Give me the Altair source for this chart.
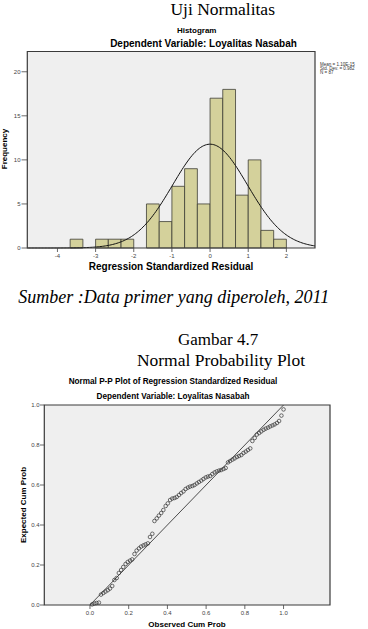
import altair as alt
import numpy as np
import pandas as pd

SANS = "Liberation Sans"
SERIF = "Liberation Serif"

# ---------------- Histogram (regression standardized residual) ----------------
bin_start = [-3.667, -3.000, -2.667, -2.333, -1.667, -1.333, -1.000, -0.667,
             -0.333, 0.000, 0.333, 0.667, 1.000, 1.333, 1.667]
bin_end = [-3.333, -2.667, -2.333, -2.000, -1.333, -1.000, -0.667, -0.333,
           0.000, 0.333, 0.667, 1.000, 1.333, 1.667, 2.000]
frequency = [1, 1, 1, 1, 5, 3, 7, 9, 5, 17, 18, 6, 10, 2, 1]
hist_x_ticks = [-4, -3, -2, -1, 0, 1, 2]
hist_x_labels = ["-4", "-3", "-2", "-1", "0", "1", "2"]
hist_y_ticks = [0, 5, 10, 15, 20]
hist_y_labels = ["0", "5", "10", "15", "20"]
hist_x_domain = [-4.79, 2.75]
hist_y_domain = [0, 22.3]
resid_mean = 0.0
resid_sd = 0.982
resid_n = 87
bin_width = 1 / 3
stats_lines = ["Mean = 1.10E-15", "Std. Dev. = 0.982", "N = 87"]

# ---------------- Normal P-P plot ----------------
obs_cum_prob = [0.011, 0.023, 0.034, 0.046, 0.057, 0.069, 0.080, 0.092, 0.103, 0.115,
                0.126, 0.138, 0.149, 0.161, 0.172, 0.184, 0.195, 0.207, 0.218, 0.230,
                0.241, 0.253, 0.264, 0.276, 0.287, 0.299, 0.310, 0.322, 0.333, 0.345,
                0.356, 0.368, 0.379, 0.391, 0.402, 0.414, 0.425, 0.437, 0.448, 0.460,
                0.471, 0.483, 0.494, 0.506, 0.517, 0.529, 0.540, 0.552, 0.563, 0.575,
                0.586, 0.598, 0.609, 0.621, 0.632, 0.644, 0.655, 0.667, 0.678, 0.690,
                0.701, 0.713, 0.724, 0.736, 0.747, 0.759, 0.770, 0.782, 0.793, 0.805,
                0.816, 0.828, 0.839, 0.851, 0.862, 0.874, 0.885, 0.897, 0.908, 0.920,
                0.931, 0.943, 0.954, 0.966, 0.977, 0.989, 1.000]
exp_cum_prob = [0.003, 0.007, 0.010, 0.012, 0.052, 0.060, 0.067, 0.074, 0.082, 0.095,
                0.125, 0.135, 0.160, 0.175, 0.190, 0.205, 0.215, 0.222, 0.228, 0.255,
                0.272, 0.283, 0.292, 0.298, 0.303, 0.308, 0.340, 0.356, 0.420, 0.433,
                0.447, 0.460, 0.475, 0.495, 0.508, 0.525, 0.532, 0.535, 0.540, 0.550,
                0.560, 0.568, 0.580, 0.587, 0.592, 0.595, 0.600, 0.608, 0.615, 0.622,
                0.630, 0.638, 0.642, 0.645, 0.655, 0.663, 0.668, 0.672, 0.675, 0.680,
                0.685, 0.713, 0.720, 0.727, 0.733, 0.740, 0.745, 0.750, 0.760, 0.767,
                0.775, 0.783, 0.820, 0.835, 0.852, 0.860, 0.868, 0.876, 0.882, 0.887,
                0.893, 0.898, 0.903, 0.910, 0.920, 0.947, 0.978]
pp_ticks = [0.0, 0.2, 0.4, 0.6, 0.8, 1.0]
pp_labels = ["0.0", "0.2", "0.4", "0.6", "0.8", "1.0"]
pp_x_domain = [-0.236, 1.24]
pp_y_domain = [0.0, 1.0]
ref_line = [0.0, 1.0]

# ---------------- Texts ----------------
TXT_MAIN = "Uji Normalitas"
TXT_HIST = "Histogram"
TXT_DEP = "Dependent Variable: Loyalitas Nasabah"
TXT_FREQ = "Frequency"
TXT_RESID = "Regression Standardized Residual"
TXT_SRC = "Sumber :Data primer yang diperoleh, 2011"
TXT_FIG = "Gambar 4.7"
TXT_FIG2 = "Normal Probability Plot"
TXT_PP = "Normal P-P Plot of Regression Standardized Residual"
TXT_EXP = "Expected Cum Prob"
TXT_OBS = "Observed Cum Prob"

W, H = 368, 629
TICK_C = "#444444"
LAB_C = "#444444"

# ================= Histogram layer =================
hx = alt.Scale(domain=hist_x_domain, range=[27.3, 315], nice=False, zero=False)
hy = alt.Scale(domain=hist_y_domain, range=[248, 51.5], nice=False, zero=False)

hist_frame = pd.DataFrame({"x0": [hist_x_domain[0]], "x1": [hist_x_domain[1]],
                           "y0": [hist_y_domain[0]], "y1": [hist_y_domain[1]]})
hist_df = pd.DataFrame({"lo": bin_start, "hi": bin_end, "freq": frequency})
cx = np.linspace(hist_x_domain[0], hist_x_domain[1], 200)
cy = resid_n * bin_width / (resid_sd * np.sqrt(2 * np.pi)) * np.exp(-0.5 * ((cx - resid_mean) / resid_sd) ** 2)
curve_df = pd.DataFrame({"cx": cx, "cy": cy})
hxt_df = pd.DataFrame({"t": hist_x_ticks, "lab": hist_x_labels})
hyt_df = pd.DataFrame({"t": hist_y_ticks, "lab": hist_y_labels})

h_bg = alt.Chart(hist_frame).mark_rect(fill="#efefef", strokeWidth=0).encode(
    x=alt.X("x0:Q", scale=hx, axis=None), x2="x1:Q",
    y=alt.Y("y0:Q", scale=hy, axis=None), y2="y1:Q")
h_bars = alt.Chart(hist_df).mark_rect(fill="#d4d19b", stroke="#3d3d35", strokeWidth=0.8).encode(
    x=alt.X("lo:Q", scale=hx, axis=None), x2="hi:Q",
    y=alt.Y("freq:Q", scale=hy, axis=None), y2=alt.datum(0))
h_curve = alt.Chart(curve_df).mark_line(color="#111111", strokeWidth=1).encode(
    x=alt.X("cx:Q", scale=hx, axis=None), y=alt.Y("cy:Q", scale=hy, axis=None))
h_border = alt.Chart(hist_frame).mark_rect(fillOpacity=0, stroke="#3a3a3a", strokeWidth=1.2).encode(
    x=alt.X("x0:Q", scale=hx, axis=None), x2="x1:Q",
    y=alt.Y("y0:Q", scale=hy, axis=None), y2="y1:Q")
h_xticks = alt.Chart(hxt_df).mark_rule(color=TICK_C, strokeWidth=0.8).encode(
    x=alt.X("t:Q", scale=hx, axis=None), y=alt.value(248), y2=alt.value(252))
h_xlabs = alt.Chart(hxt_df).mark_text(fontSize=6, font=SANS, color=LAB_C, baseline="top").encode(
    x=alt.X("t:Q", scale=hx, axis=None), y=alt.value(252.5), text="lab:N")
h_yticks = alt.Chart(hyt_df).mark_rule(color=TICK_C, strokeWidth=0.8).encode(
    y=alt.Y("t:Q", scale=hy, axis=None), x=alt.value(21.5), x2=alt.value(27.3))
h_ylabs = alt.Chart(hyt_df).mark_text(fontSize=6, font=SANS, color=LAB_C, align="right",
                                      baseline="middle").encode(
    y=alt.Y("t:Q", scale=hy, axis=None), x=alt.value(20.5), text="lab:N")
hist = alt.layer(h_bg, h_bars, h_curve, h_border, h_xticks, h_xlabs, h_yticks, h_ylabs)

# ================= P-P layer =================
px = alt.Scale(domain=pp_x_domain, range=[44.3, 330], nice=False, zero=False)
py = alt.Scale(domain=pp_y_domain, range=[605, 405], nice=False, zero=False)

pp_frame = pd.DataFrame({"x0": [pp_x_domain[0]], "x1": [pp_x_domain[1]],
                         "y0": [pp_y_domain[0]], "y1": [pp_y_domain[1]]})
pp_df = pd.DataFrame({"obs": obs_cum_prob, "exp": exp_cum_prob})
line_df = pd.DataFrame({"lx": ref_line, "ly": ref_line})
ppt_df = pd.DataFrame({"t": pp_ticks, "lab": pp_labels})

p_bg = alt.Chart(pp_frame).mark_rect(fill="#efefef", strokeWidth=0).encode(
    x=alt.X("x0:Q", scale=px, axis=None), x2="x1:Q",
    y=alt.Y("y0:Q", scale=py, axis=None), y2="y1:Q")
p_line = alt.Chart(line_df).mark_line(color="#222222", strokeWidth=0.8).encode(
    x=alt.X("lx:Q", scale=px, axis=None), y=alt.Y("ly:Q", scale=py, axis=None))
p_pts = alt.Chart(pp_df).mark_point(shape="circle", filled=False, size=13, color="#333333",
                                    strokeWidth=0.7, opacity=1).encode(
    x=alt.X("obs:Q", scale=px, axis=None), y=alt.Y("exp:Q", scale=py, axis=None))
p_border = alt.Chart(pp_frame).mark_rect(fillOpacity=0, stroke="#3a3a3a", strokeWidth=1.2).encode(
    x=alt.X("x0:Q", scale=px, axis=None), x2="x1:Q",
    y=alt.Y("y0:Q", scale=py, axis=None), y2="y1:Q")
p_xticks = alt.Chart(ppt_df).mark_rule(color=TICK_C, strokeWidth=0.8).encode(
    x=alt.X("t:Q", scale=px, axis=None), y=alt.value(605), y2=alt.value(609))
p_xlabs = alt.Chart(ppt_df).mark_text(fontSize=6, font=SANS, color=LAB_C, baseline="top").encode(
    x=alt.X("t:Q", scale=px, axis=None), y=alt.value(609.5), text="lab:N")
p_yticks = alt.Chart(ppt_df).mark_rule(color=TICK_C, strokeWidth=0.8).encode(
    y=alt.Y("t:Q", scale=py, axis=None), x=alt.value(40), x2=alt.value(44.3))
p_ylabs = alt.Chart(ppt_df).mark_text(fontSize=6, font=SANS, color=LAB_C, align="right",
                                      baseline="middle").encode(
    y=alt.Y("t:Q", scale=py, axis=None), x=alt.value(39.5), text="lab:N")
pp = alt.layer(p_bg, p_line, p_pts, p_border, p_xticks, p_xlabs, p_yticks, p_ylabs)


# ================= text layers =================
def txt(s, x, y, size, font=SANS, weight="normal", style="normal", align="center",
        baseline="middle", angle=0, color="black"):
    return alt.Chart(alt.Data(values=[{}])).mark_text(
        text=s, font=font, fontSize=size, fontWeight=weight, fontStyle=style,
        align=align, baseline=baseline, angle=angle, color=color
    ).encode(x=alt.value(x), y=alt.value(y))


texts = [
    txt(TXT_MAIN, 222.7, 15, 17.5, font=SERIF, baseline="alphabetic"),
    txt(TXT_HIST, 196.7, 33, 8, weight="bold", baseline="alphabetic"),
    txt(TXT_DEP, 203.5, 46.5, 10, weight="bold", baseline="alphabetic"),
    txt(stats_lines[0], 320, 64.5, 4.5, align="left", color="#333"),
    txt(stats_lines[1], 320, 68.7, 4.5, align="left", color="#333"),
    txt(stats_lines[2], 320, 72.9, 4.5, align="left", color="#333"),
    txt(TXT_FREQ, 4.5, 149, 8, weight="bold", angle=270),
    txt(TXT_RESID, 171, 266.7, 10, weight="bold"),
    txt(TXT_SRC, 18.3, 298, 18, font=SERIF, style="italic", align="left"),
    txt(TXT_FIG, 218, 340, 17, font=SERIF),
    txt(TXT_FIG2, 221, 361, 17.5, font=SERIF),
    txt(TXT_PP, 173, 382, 8.2, weight="bold"),
    txt(TXT_DEP, 173, 397, 8.2, weight="bold"),
    txt(TXT_EXP, 24, 505, 8, weight="bold", angle=270),
    txt(TXT_OBS, 187, 625, 8, weight="bold"),
]

chart = alt.layer(hist, pp, *texts).resolve_scale(
    x="independent", y="independent"
).properties(
    width=W, height=H, padding=0,
    autosize=alt.AutoSizeParams(type="none"),
    background="white",
).configure_view(strokeWidth=0)

chart.save("out.html", embed_options={"renderer": "svg", "actions": False})
